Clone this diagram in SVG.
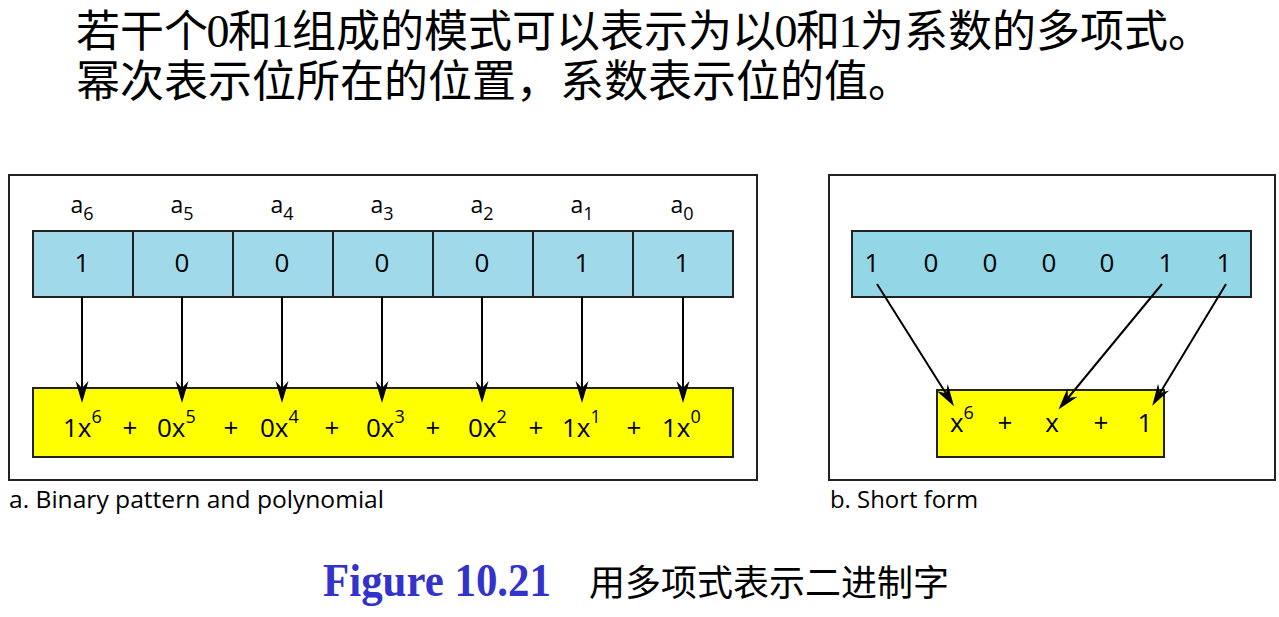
<svg xmlns="http://www.w3.org/2000/svg" width="1279" height="617" viewBox="0 0 1279 617">
<style>
.cjk{font-family:"Liberation Serif","Noto Sans CJK SC",serif;font-size:44px;fill:#000}
.dig{font-family:"Liberation Serif",serif;font-size:46px;text-anchor:middle}
.sans{font-family:"Open Sans","Noto Sans",sans-serif;fill:#000}
.lbl{font-size:23px}
.sub{font-size:18px}
.val{font-size:26px;text-anchor:middle}
.poly{font-size:26px}
.sup{font-size:18px}
.pm{font-size:26px;text-anchor:middle}
.cap{font-size:23px}
.frame{fill:#fff;stroke:#222;stroke-width:2}
.cell{fill:#A0DAEA;stroke:#222;stroke-width:2}
.bar{fill:#93D6E6;stroke:#222;stroke-width:2}
.yel{fill:#FFFF00;stroke:#222;stroke-width:2}
.conn line{stroke:#000;stroke-width:2;marker-end:url(#ah)}
</style>
<defs>
<marker id="ah" viewBox="0 -8 24 16" markerWidth="24" markerHeight="16" refX="7" refY="0" orient="auto" markerUnits="userSpaceOnUse" overflow="visible">
<path d="M0,-6.5 L22,0 L0,6.5 L7,0 Z" fill="#000"/>
</marker>
</defs>
<rect width="1279" height="617" fill="#fff"/>

<g id="title">
<text class="cjk" y="47"><tspan x="76">若干个</tspan><tspan class="dig" x="218">0</tspan><tspan x="228">和</tspan><tspan class="dig" x="282">1</tspan><tspan x="292">组成的模式可以表示为以</tspan><tspan class="dig" x="786">0</tspan><tspan x="796">和</tspan><tspan class="dig" x="850">1</tspan><tspan x="860">为系数的多项式。</tspan></text>
<text class="cjk" x="76" y="97">幂次表示位所在的位置，系数表示位的值。</text>
</g>

<g id="panel-a">
<rect class="frame" x="9" y="175" width="748" height="305"/>
<g id="labels-a" class="sans lbl">
<text x="82" y="213" text-anchor="middle">a<tspan class="sub" dy="7">6</tspan></text>
<text x="182" y="213" text-anchor="middle">a<tspan class="sub" dy="7">5</tspan></text>
<text x="282" y="213" text-anchor="middle">a<tspan class="sub" dy="7">4</tspan></text>
<text x="382" y="213" text-anchor="middle">a<tspan class="sub" dy="7">3</tspan></text>
<text x="482" y="213" text-anchor="middle">a<tspan class="sub" dy="7">2</tspan></text>
<text x="582" y="213" text-anchor="middle">a<tspan class="sub" dy="7">1</tspan></text>
<text x="682" y="213" text-anchor="middle">a<tspan class="sub" dy="7">0</tspan></text>
</g>
<g id="bits-a">
<rect class="cell" x="33" y="231" width="100" height="66"/>
<rect class="cell" x="133" y="231" width="100" height="66"/>
<rect class="cell" x="233" y="231" width="100" height="66"/>
<rect class="cell" x="333" y="231" width="100" height="66"/>
<rect class="cell" x="433" y="231" width="100" height="66"/>
<rect class="cell" x="533" y="231" width="100" height="66"/>
<rect class="cell" x="633" y="231" width="100" height="66"/>
<g class="sans val">
<text x="82" y="272">1</text>
<text x="182" y="272">0</text>
<text x="282" y="272">0</text>
<text x="382" y="272">0</text>
<text x="482" y="272">0</text>
<text x="582" y="272">1</text>
<text x="682" y="272">1</text>
</g>
</g>
<g id="poly-a">
<rect class="yel" x="33" y="388" width="700" height="69"/>
<g class="sans poly">
<text x="63" y="437">1x<tspan class="sup" dy="-14">6</tspan></text>
<text x="157" y="437">0x<tspan class="sup" dy="-14">5</tspan></text>
<text x="260" y="437">0x<tspan class="sup" dy="-14">4</tspan></text>
<text x="366" y="437">0x<tspan class="sup" dy="-14">3</tspan></text>
<text x="468" y="437">0x<tspan class="sup" dy="-14">2</tspan></text>
<text x="562" y="437">1x<tspan class="sup" dy="-14">1</tspan></text>
<text x="662" y="437">1x<tspan class="sup" dy="-14">0</tspan></text>
</g>
<g class="sans pm">
<text x="130" y="437">+</text>
<text x="231" y="437">+</text>
<text x="332" y="437">+</text>
<text x="433" y="437">+</text>
<text x="536" y="437">+</text>
<text x="634" y="437">+</text>
</g>
</g>
<text id="caption-a" class="sans cap" x="9" y="508" textLength="375" lengthAdjust="spacingAndGlyphs">a. Binary pattern and polynomial</text>
</g>

<g id="panel-b">
<rect class="frame" x="829" y="175" width="446" height="305"/>
<g id="bits-b">
<rect class="bar" x="852" y="231" width="399" height="66"/>
<g class="sans val">
<text x="872" y="272">1</text>
<text x="931" y="272">0</text>
<text x="990" y="272">0</text>
<text x="1049" y="272">0</text>
<text x="1107" y="272">0</text>
<text x="1166" y="272">1</text>
<text x="1224" y="272">1</text>
</g>
</g>
<g id="poly-b">
<rect class="yel" x="937" y="390" width="227" height="67"/>
<g class="sans">
<text class="poly" x="950" y="432">x<tspan class="sup" dy="-13">6</tspan></text>
<text class="pm" x="1005" y="432">+</text>
<text class="pm" x="1052" y="432">x</text>
<text class="pm" x="1101" y="432">+</text>
<text class="pm" x="1145" y="432">1</text>
</g>
</g>
<text id="caption-b" class="sans cap" x="830" y="508" textLength="148" lengthAdjust="spacingAndGlyphs">b. Short form</text>
</g>

<g id="connectors" class="conn">
<line x1="82" y1="297" x2="82" y2="388"/>
<line x1="182" y1="297" x2="182" y2="388"/>
<line x1="282" y1="297" x2="282" y2="388"/>
<line x1="382" y1="297" x2="382" y2="388"/>
<line x1="482" y1="297" x2="482" y2="388"/>
<line x1="582" y1="297" x2="582" y2="388"/>
<line x1="683" y1="297" x2="683" y2="388"/>
<line x1="877" y1="284" x2="946" y2="393.5"/>
<line x1="1162" y1="284" x2="1068" y2="398"/>
<line x1="1226" y1="284" x2="1160" y2="393"/>
</g>

<g id="figure-caption">
<text x="323" y="596" font-family="'Liberation Serif',serif" font-weight="bold" font-size="46" fill="#3333CC" textLength="228" lengthAdjust="spacingAndGlyphs">Figure 10.21</text>
<text class="cjk" x="589" y="596" style="font-size:36px">用多项式表示二进制字</text>
</g>
</svg>
